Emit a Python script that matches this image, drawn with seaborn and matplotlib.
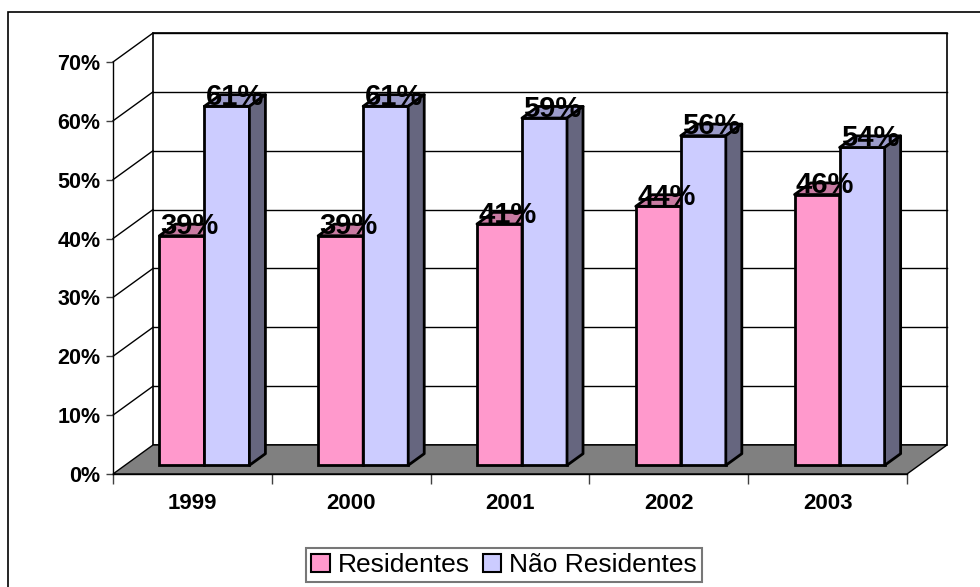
import matplotlib
matplotlib.use("Agg")
import matplotlib.pyplot as plt
from matplotlib.patches import Polygon, Rectangle, Patch
import seaborn as sns
import pandas as pd

# ---- data ----
years = ["1999", "2000", "2001", "2002", "2003"]
series = ["Residentes", "Não Residentes"]
residentes = [39, 39, 41, 44, 46]
nao_residentes = [61, 61, 59, 56, 54]
y_ticks = [0, 10, 20, 30, 40, 50, 60, 70]

front_colors = ["#FF99CC", "#CCCCFF"]
top_colors = ["#C97BA2", "#9C9CCB"]
side_colors = ["#9E5F80", "#66667F"]

plt.rcParams["font.family"] = ["Liberation Sans", "DejaVu Sans"]

df = pd.DataFrame({
    "Ano": years * 2,
    "Série": [series[0]] * len(years) + [series[1]] * len(years),
    "Valor": residentes + nao_residentes,
})

W, H = 980, 587
fig = plt.figure(figsize=(W / 100, H / 100), dpi=100)
fig.patch.set_facecolor("white")

# outer frame (clipped at right/bottom like the original)
fig.add_artist(Rectangle((8 / W, -0.05), 1.1, 1.05 - 12 / H,
                         transform=fig.transFigure, fill=False,
                         edgecolor="black", linewidth=1.2))

# front plane axes
left_px, right_px, bot_px, top_px = 113, 907, 474, 62
ax = fig.add_axes([left_px / W, (H - bot_px) / H,
                   (right_px - left_px) / W, (bot_px - top_px) / H])
ax.set_facecolor("none")
ax.set_xlim(-0.5, len(years) - 0.5)
ax.set_ylim(0, 70)

px_x = (right_px - left_px) / len(years)   # px per category
px_y = (bot_px - top_px) / 70.0            # px per percent
DEPTH_X, DEPTH_Y = 40, 29                  # full depth offset in px
Dx, Dy = DEPTH_X / px_x, DEPTH_Y / px_y

x0, x1 = -0.5, len(years) - 0.5
# back wall
ax.add_patch(Rectangle((x0 + Dx, Dy), x1 - x0, 70, facecolor="white",
                       edgecolor="black", linewidth=1.2, clip_on=False, zorder=0.5))
# gridlines on back wall and side wall
for v in y_ticks[1:]:
    ax.plot([x0 + Dx, x1 + Dx], [v + Dy, v + Dy], color="black", lw=1.0,
            clip_on=False, zorder=0.6)
    ax.plot([x0, x0 + Dx], [v, v + Dy], color="black", lw=1.0,
            clip_on=False, zorder=0.6)
# floor
ax.add_patch(Polygon([(x0, 0), (x1, 0), (x1 + Dx, Dy), (x0 + Dx, Dy)],
                     closed=True, facecolor="#808080", edgecolor="black",
                     linewidth=1.0, clip_on=False, zorder=0.7))

# axes styling
for s in ["top", "right"]:
    ax.spines[s].set_visible(False)
ax.spines["left"].set_linewidth(1.0)
ax.spines["bottom"].set_linewidth(1.0)
ax.set_yticks(y_ticks)
ax.set_yticklabels([f"{v}%" for v in y_ticks], fontsize=15.5, fontweight="bold")
ax.tick_params(axis="y", length=5, width=1, pad=4, color="#404040")
ax.set_xticks([i - 0.5 for i in range(len(years) + 1)])
ax.set_xticklabels([])
ax.tick_params(axis="x", which="major", length=7, width=1, color="#404040")
ax.set_xticks(range(len(years)), minor=True)
ax.set_xticklabels(years, minor=True, fontsize=16, fontweight="bold")
ax.tick_params(axis="x", which="minor", length=0, pad=14)

# bar plane axes (shifted into depth)
bar_depth0, bar_depth = 0.3, 0.4
pos = ax.get_position()
axb = fig.add_axes([pos.x0 + bar_depth0 * DEPTH_X / W,
                    pos.y0 + bar_depth0 * DEPTH_Y / H,
                    pos.width, pos.height])
axb.set_facecolor("none")
sns.barplot(data=df, x="Ano", y="Valor", hue="Série", hue_order=series,
            palette=front_colors, saturation=1, width=0.567, dodge=True,
            edgecolor="black", linewidth=2.0, legend=False, ax=axb)
axb.set_xlim(-0.5, len(years) - 0.5)
axb.set_ylim(0, 70)
axb.axis("off")

bdx, bdy = bar_depth * Dx, bar_depth * Dy
n = len(years)
patches = list(axb.patches)
for i, p in enumerate(patches):
    k = i // n
    z = 2 + 2 * k
    p.set_zorder(z)
    p.set_clip_on(False)
    bx0 = p.get_x()
    bx1 = bx0 + p.get_width()
    h = p.get_height()
    top = Polygon([(bx0, h), (bx1, h), (bx1 + bdx, h + bdy), (bx0 + bdx, h + bdy)],
                  closed=True, facecolor=top_colors[k], edgecolor="black",
                  linewidth=2.0, joinstyle="round", clip_on=False, zorder=z + 0.5)
    side = Polygon([(bx1, 0), (bx1 + bdx, bdy), (bx1 + bdx, h + bdy), (bx1, h)],
                   closed=True, facecolor=side_colors[k], edgecolor="black",
                   linewidth=2.0, joinstyle="round", clip_on=False, zorder=z + 0.5)
    axb.add_patch(top)
    axb.add_patch(side)
    axb.text((bx0 + bx1) / 2 + bdx / 2, h + 0.25, f"{h:.0f}%",
             ha="center", va="baseline", fontsize=21, fontweight="bold",
             color="black", zorder=10, clip_on=False)

# legend
handles = [Patch(facecolor=c, edgecolor="black", linewidth=1.5) for c in front_colors]
leg = fig.legend(handles, series, loc="center", bbox_to_anchor=(504 / W, 1 - 565 / H),
                 ncol=2, frameon=True, fancybox=False, fontsize=19,
                 handlelength=0.7, handleheight=0.7, handletextpad=0.3,
                 columnspacing=0.5, borderpad=0.2, borderaxespad=0)
leg.get_frame().set_edgecolor("#555555")
leg.get_frame().set_linewidth(1.5)

fig.savefig("out.png", dpi=100)
